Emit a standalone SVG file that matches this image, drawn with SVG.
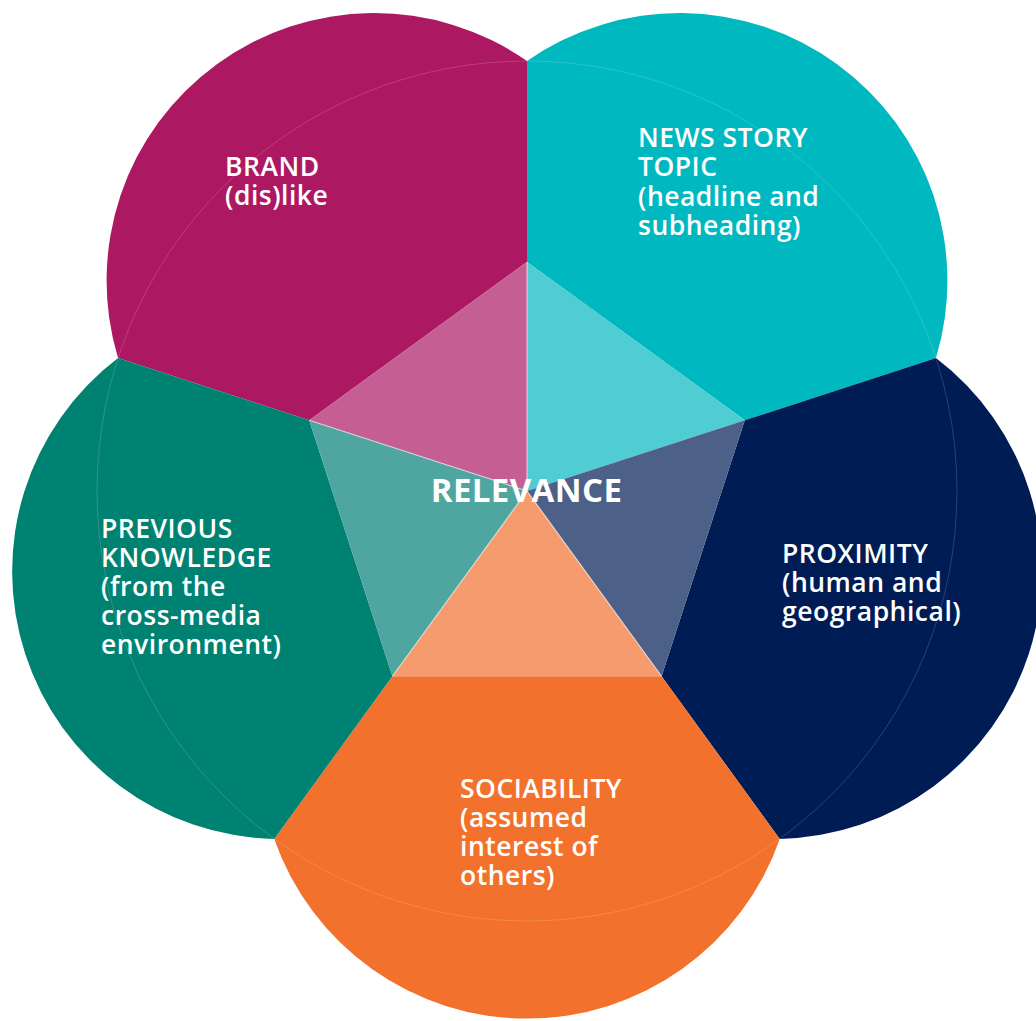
<svg xmlns="http://www.w3.org/2000/svg" width="1036" height="1021" viewBox="0 0 1036 1021">
  <style>
    .lbl { font-family: "Open Sans", "Noto Sans", "Liberation Sans", sans-serif; font-size: 26.5px; font-weight: 600; letter-spacing: 0.5px; fill: #ffffff; }
    .ttl { font-family: "Open Sans", "Noto Sans", "Liberation Sans", sans-serif; font-size: 33px; font-weight: bold; letter-spacing: 0.4px; fill: #ffffff; }
    .seam { stroke: #ffffff; stroke-opacity: 0.55; stroke-width: 1.2; fill: none; }
    .ring { stroke: #ffffff; stroke-opacity: 0.16; stroke-width: 1; fill: none; }
  </style>
  <rect width="1036" height="1021" fill="#ffffff"/>

  <g id="petal-brand">
    <path d="M309.21,420.23 L118.04,358.12 A267.6,267.6 0 0 1 527,61 L527,262 Z" fill="#AD1862"/>
    <polygon points="527,262 309.21,420.23 527,491" fill="#C55E93"/>
    <text class="lbl" x="225" y="176"><tspan x="225">BRAND</tspan><tspan x="225" dy="29">(dis)like</tspan></text>
  </g>

  <g id="petal-topic">
    <path d="M527,262 L527,61 A267.6,267.6 0 0 1 935.96,358.12 L744.79,420.23 Z" fill="#00B8C0"/>
    <polygon points="527,262 744.79,420.23 527,491" fill="#50CCD3"/>
    <text class="lbl" x="638" y="147"><tspan x="638">NEWS STORY</tspan><tspan x="638" dy="29.3">TOPIC</tspan><tspan x="638" dy="29.3">(headline and</tspan><tspan x="638" dy="29.3">subheading)</tspan></text>
  </g>

  <g id="petal-proximity">
    <path d="M744.79,420.23 L935.96,358.12 A267.6,267.6 0 0 1 779.75,838.88 L661.60,676.27 Z" fill="#001C55"/>
    <polygon points="744.79,420.23 661.60,676.27 527,491" fill="#4D6088"/>
    <text class="lbl" x="782" y="563"><tspan x="782">PROXIMITY</tspan><tspan x="782" dy="29">(human and</tspan><tspan x="782" dy="29">geographical)</tspan></text>
  </g>

  <g id="petal-sociability">
    <path d="M661.60,676.27 L779.75,838.88 A267.6,267.6 0 0 1 274.25,838.88 L392.40,676.27 Z" fill="#F2712C"/>
    <polygon points="661.60,676.27 392.40,676.27 527,491" fill="#F59B6E"/>
    <text class="lbl" x="460" y="798"><tspan x="460">SOCIABILITY</tspan><tspan x="460" dy="29">(assumed</tspan><tspan x="460" dy="29">interest of</tspan><tspan x="460" dy="29">others)</tspan></text>
  </g>

  <g id="petal-knowledge">
    <path d="M392.40,676.27 L274.25,838.88 A267.6,267.6 0 0 1 118.04,358.12 L309.21,420.23 Z" fill="#008272"/>
    <polygon points="392.40,676.27 309.21,420.23 527,491" fill="#4FA6A0"/>
    <text class="lbl" x="101" y="538"><tspan x="101">PREVIOUS</tspan><tspan x="101" dy="29">KNOWLEDGE</tspan><tspan x="101" dy="29">(from the</tspan><tspan x="101" dy="29">cross-media</tspan><tspan x="101" dy="29">environment)</tspan></text>
  </g>

  <g id="connectors">
    <circle class="ring" cx="527" cy="491" r="430"/>
    <line class="seam" x1="527" y1="262" x2="527" y2="491"/>
    <line class="seam" x1="309.21" y1="420.23" x2="527" y2="491"/>
    <line class="seam" x1="392.40" y1="676.27" x2="527" y2="491"/>
    <line class="seam" x1="661.60" y1="676.27" x2="527" y2="491"/>
  </g>

  <g id="center">
    <text class="ttl" x="526.5" y="502" text-anchor="middle">RELEVANCE</text>
  </g>
</svg>
